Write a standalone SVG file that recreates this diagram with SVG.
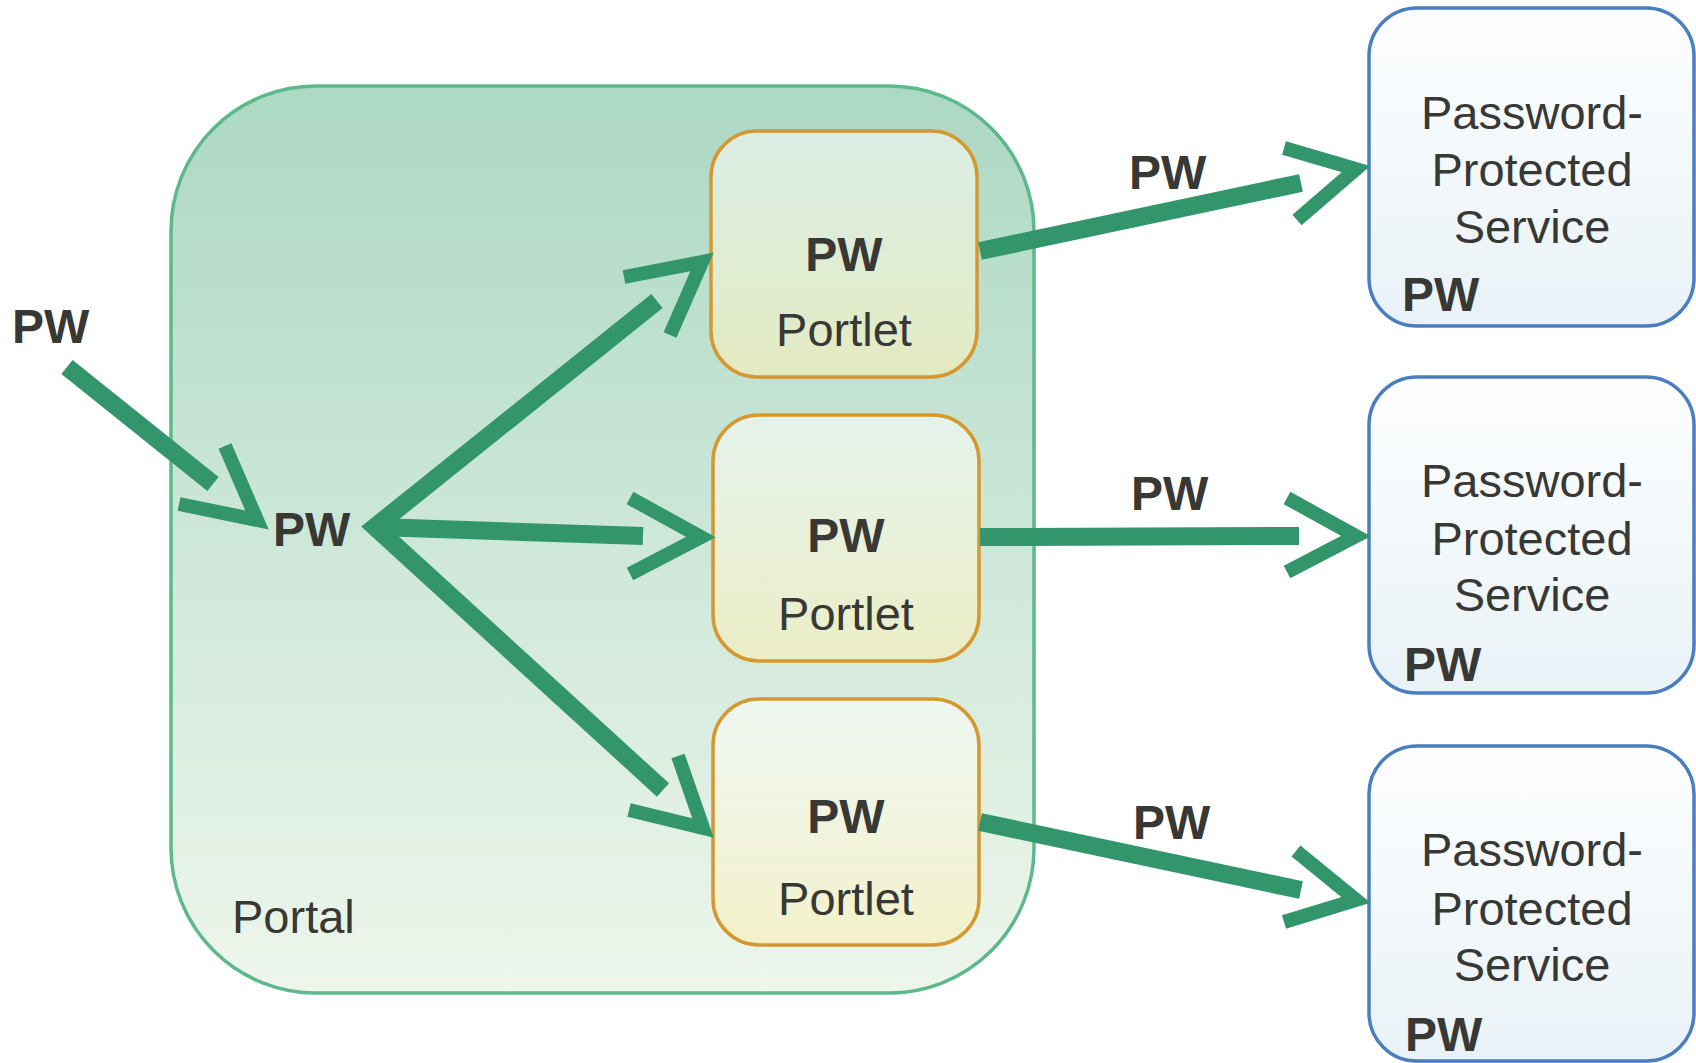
<svg xmlns="http://www.w3.org/2000/svg" width="1696" height="1063" viewBox="0 0 1696 1063">
<defs>
<linearGradient id="gPortal" x1="0" y1="0" x2="0" y2="1">
<stop offset="0" stop-color="#acd8c4"/>
<stop offset="1" stop-color="#eef6ec"/>
</linearGradient>
<linearGradient id="gPortlet" x1="0" y1="0" x2="0" y2="1">
<stop offset="0" stop-color="#ffffff" stop-opacity="0.55"/>
<stop offset="1" stop-color="#f8efb6" stop-opacity="0.62"/>
</linearGradient>
<linearGradient id="gSvc" x1="0" y1="0" x2="0" y2="1">
<stop offset="0" stop-color="#fdfeff"/>
<stop offset="1" stop-color="#e9f2f7"/>
</linearGradient>
</defs>
<style>
.portal{fill:url(#gPortal);stroke:#5db98b;stroke-width:3.5}
.portlet{fill:url(#gPortlet);stroke:#d4982e;stroke-width:3.5}
.svc{fill:url(#gSvc);stroke:#4a7ebf;stroke-width:3.5}
text{font-family:"Liberation Sans",Arial,sans-serif;fill:#383835}
.b{font-weight:bold;font-size:48px}
.r{font-size:47px}
.c{text-anchor:middle}
.shaft{fill:none;stroke:#33956b;stroke-width:18;stroke-linecap:butt;stroke-linejoin:miter;stroke-miterlimit:10}
.head{fill:none;stroke:#33956b;stroke-width:14;stroke-linecap:butt;stroke-linejoin:miter;stroke-miterlimit:10}
</style>

<g id="portal">
<rect class="portal" x="171" y="86" width="863" height="907" rx="145" ry="145"/>
<text class="r" x="232" y="933">Portal</text>
</g>

<g id="portlet1">
<rect class="portlet" x="711" y="131" width="266" height="246" rx="46" ry="46"/>
<text class="b c" x="844" y="271">PW</text>
<text class="r c" x="844" y="346">Portlet</text>
</g>
<g id="portlet2">
<rect class="portlet" x="713" y="415" width="266" height="246" rx="46" ry="46"/>
<text class="b c" x="846" y="552">PW</text>
<text class="r c" x="846" y="630">Portlet</text>
</g>
<g id="portlet3">
<rect class="portlet" x="713" y="699" width="266" height="246" rx="46" ry="46"/>
<text class="b c" x="846" y="833">PW</text>
<text class="r c" x="846" y="915">Portlet</text>
</g>

<g id="service1">
<rect class="svc" x="1369" y="8" width="325" height="318" rx="48" ry="48"/>
<text class="r c" x="1532" y="129">Password-</text>
<text class="r c" x="1532" y="186">Protected</text>
<text class="r c" x="1532" y="243">Service</text>
<text class="b" x="1402" y="311">PW</text>
</g>
<g id="service2">
<rect class="svc" x="1369" y="377" width="325" height="316" rx="48" ry="48"/>
<text class="r c" x="1532" y="497">Password-</text>
<text class="r c" x="1532" y="555">Protected</text>
<text class="r c" x="1532" y="611">Service</text>
<text class="b" x="1404" y="681">PW</text>
</g>
<g id="service3">
<rect class="svc" x="1369" y="746" width="325" height="315" rx="48" ry="48"/>
<text class="r c" x="1532" y="866">Password-</text>
<text class="r c" x="1532" y="925">Protected</text>
<text class="r c" x="1532" y="981">Service</text>
<text class="b" x="1405" y="1051">PW</text>
</g>

<g id="labels">
<text class="b" x="12" y="343">PW</text>
<text class="b" x="273" y="546">PW</text>
<text class="b" x="1129" y="189">PW</text>
<text class="b" x="1131" y="510">PW</text>
<text class="b" x="1133" y="839">PW</text>
</g>

<g id="connectors">
<line class="shaft" x1="67" y1="367" x2="213" y2="484"/>
<polyline class="head" points="225,446 257,520 179,504"/>

<polyline class="shaft" points="657,301 375,527 663,790"/>
<line class="shaft" x1="378" y1="527" x2="643" y2="536"/>
<polyline class="head" points="624,277 702,262 670,335"/>
<polyline class="head" points="630,498 701,537 630,574"/>
<polyline class="head" points="678,756 703,828 629,810"/>

<line class="shaft" x1="980" y1="251" x2="1301" y2="183"/>
<polyline class="head" points="1284,148 1356,169 1297,220"/>
<line class="shaft" x1="980" y1="537" x2="1299" y2="536"/>
<polyline class="head" points="1287,498 1356,536 1287,572"/>
<line class="shaft" x1="980" y1="822" x2="1301" y2="890"/>
<polyline class="head" points="1296,851 1356,900 1284,922"/>
</g>
</svg>
